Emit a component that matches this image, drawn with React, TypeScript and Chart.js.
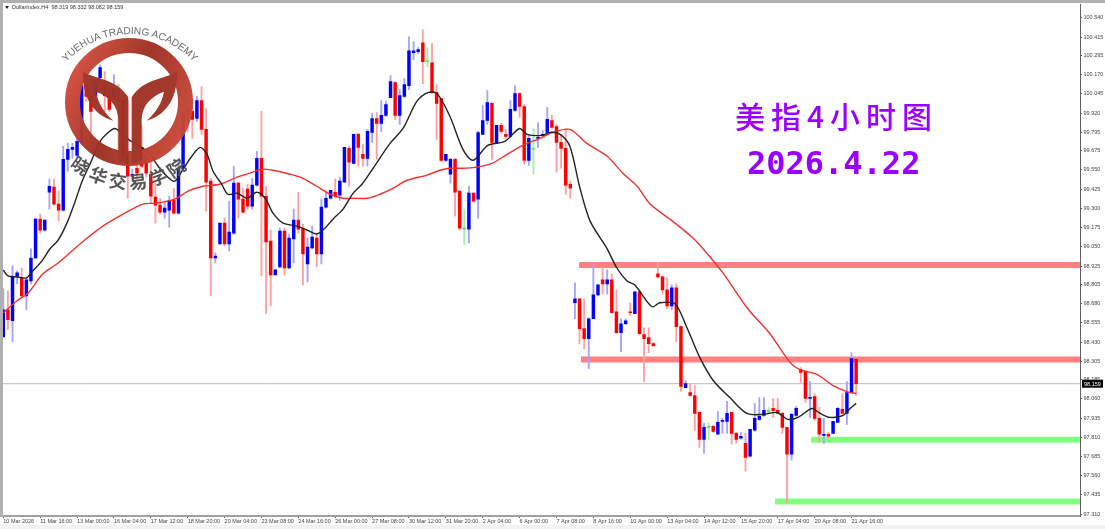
import React, { useEffect, useRef } from "react";
import { Chart, registerables } from "chart.js";

Chart.register(...registerables);

const opens = [
  98.465,98.640,98.569,98.854,98.848,98.731,98.828,98.977,99.230,99.159,
  99.405,99.438,99.328,99.289,99.619,99.684,99.645,99.730,100.099,100.028,
  100.034,100.151,100.099,100.041,100.008,100.073,100.002,99.652,99.509,99.561,
  99.697,99.639,99.522,99.373,99.321,99.276,99.289,99.353,99.269,99.561,
  99.944,99.931,99.885,100.002,99.814,99.477,98.977,99.068,99.204,99.068,
  99.139,99.464,99.360,99.425,99.315,99.451,99.626,99.379,99.088,98.867,
  98.919,99.152,98.912,99.101,99.224,99.165,98.938,99.042,99.107,99.003,
  99.308,99.366,99.405,99.386,99.470,99.691,99.593,99.782,99.652,99.626,
  99.794,99.885,99.853,99.905,100.021,100.119,99.905,100.028,100.099,100.313,
  100.320,100.378,100.255,100.248,100.054,100.015,99.613,99.522,99.619,99.412,
  99.165,99.165,99.399,99.360,99.782,99.872,99.983,99.723,99.840,99.782,
  99.769,99.937,100.047,99.963,99.613,99.684,99.756,99.775,99.794,99.872,
  99.833,99.730,99.691,99.457,98.686,98.712,98.517,98.452,98.582,98.737,
  98.835,98.809,98.835,98.627,98.491,98.549,98.627,98.614,98.757,98.478,
  98.459,98.420,98.874,98.854,98.770,98.666,98.783,98.530,98.134,98.102,
  98.082,97.972,97.797,97.875,97.881,97.830,97.914,97.914,97.972,97.836,
  97.804,97.771,97.687,97.856,97.927,97.953,97.985,97.998,97.985,97.966,
  97.875,97.700,97.953,98.251,98.238,98.063,98.076,97.933,97.823,97.830,
  97.836,97.907,97.992,97.966,98.102,98.319,
];
const highs = [
  98.776,98.763,98.926,98.893,98.912,98.848,99.036,99.237,99.263,99.224,
  99.490,99.490,99.412,99.704,99.723,99.723,99.782,100.125,100.125,100.041,
  100.125,100.235,100.190,100.093,100.171,100.106,100.028,99.996,99.555,99.606,
  99.833,99.671,99.606,99.464,99.366,99.347,99.379,99.431,99.606,99.931,
  99.976,100.015,100.028,100.093,99.950,99.496,99.010,99.204,99.237,99.347,
  99.574,99.470,99.431,99.457,99.496,99.671,99.931,99.444,99.159,98.900,
  99.172,99.172,99.133,99.295,99.405,99.198,99.107,99.185,99.139,99.360,
  99.412,99.418,99.490,99.503,99.697,99.704,99.782,99.788,99.717,99.814,
  99.918,99.924,100.002,99.996,100.164,100.125,100.073,100.145,100.417,100.385,
  100.346,100.462,100.346,100.372,100.106,100.015,99.652,99.626,99.626,99.412,
  99.295,99.444,99.399,99.801,99.970,100.067,99.989,99.840,99.853,99.814,
  100.002,100.099,100.054,99.976,99.782,99.820,99.859,99.807,99.957,99.905,
  99.846,99.782,99.820,99.477,98.815,98.712,98.712,98.588,98.938,98.802,
  98.919,98.900,98.874,98.770,98.582,98.582,98.686,98.757,98.770,98.523,
  98.523,98.426,98.951,98.861,98.848,98.802,98.809,98.536,98.180,98.160,
  98.147,97.972,97.901,97.901,97.888,97.979,97.933,98.044,97.972,97.843,
  97.843,97.836,97.862,98.031,98.069,98.069,98.005,98.063,98.063,97.972,
  97.875,97.966,98.011,98.264,98.245,98.173,98.095,98.005,97.933,97.843,
  97.914,98.005,98.095,98.173,98.361,98.332,
];
const lows = [
  98.459,98.510,98.433,98.809,98.724,98.640,98.809,98.971,99.139,99.152,
  99.295,99.321,99.217,99.282,99.542,99.626,99.626,99.717,99.996,99.691,
  99.983,100.106,99.931,99.931,99.996,99.691,99.606,99.366,99.477,99.490,
  99.561,99.503,99.334,99.204,99.263,99.237,99.178,99.263,99.263,99.542,
  99.801,99.756,99.866,99.782,99.282,98.731,98.945,99.068,99.055,99.023,
  99.133,99.237,99.269,99.295,99.295,99.444,98.861,98.614,98.666,98.867,
  98.912,98.867,98.906,98.945,99.139,98.802,98.822,99.036,98.919,98.938,
  99.302,99.360,99.366,99.353,99.470,99.444,99.593,99.574,99.574,99.574,
  99.730,99.619,99.801,99.898,100.021,99.879,99.846,100.021,100.073,100.268,
  100.307,100.112,100.223,100.047,99.749,99.606,99.606,99.464,99.250,99.159,
  99.062,99.075,99.340,99.237,99.782,99.846,99.619,99.723,99.788,99.749,
  99.762,99.931,99.892,99.587,99.580,99.522,99.697,99.769,99.788,99.820,
  99.535,99.561,99.392,99.366,98.582,98.420,98.387,98.257,98.582,98.731,
  98.744,98.744,98.621,98.485,98.368,98.543,98.601,98.614,98.478,98.173,
  98.361,98.400,98.848,98.744,98.647,98.640,98.433,98.108,98.134,98.076,
  97.856,97.745,97.706,97.797,97.842,97.830,97.836,97.836,97.765,97.771,
  97.797,97.590,97.680,97.849,97.920,97.946,97.966,97.940,97.966,97.836,
  97.382,97.661,97.946,98.167,98.037,97.940,97.920,97.778,97.771,97.804,
  97.836,97.907,97.966,97.894,98.095,98.082,
];
const closes = [
  98.640,98.575,98.854,98.880,98.731,98.835,98.977,99.230,99.159,99.224,
  99.444,99.328,99.289,99.619,99.684,99.697,99.736,100.099,100.028,99.931,
  100.125,100.216,100.034,99.944,100.080,100.002,99.652,99.509,99.522,99.529,
  99.574,99.529,99.379,99.321,99.276,99.302,99.353,99.269,99.561,99.924,
  99.879,99.879,100.002,99.814,99.470,98.977,98.990,99.204,99.068,99.146,
  99.464,99.360,99.276,99.315,99.451,99.626,99.379,99.081,98.867,98.900,
  99.152,98.912,99.107,99.224,99.165,99.003,99.049,99.114,99.003,99.308,
  99.366,99.418,99.379,99.477,99.697,99.600,99.782,99.697,99.626,99.801,
  99.885,99.853,99.905,99.976,100.125,99.905,100.034,100.106,100.326,100.326,
  100.333,100.255,100.261,100.054,99.983,99.613,99.652,99.619,99.405,99.172,
  99.172,99.399,99.347,99.794,99.872,99.989,99.730,99.840,99.801,99.769,
  99.944,100.047,99.963,99.613,99.756,99.691,99.762,99.782,99.879,99.827,
  99.730,99.691,99.451,99.431,98.712,98.517,98.452,98.582,98.737,98.802,
  98.809,98.835,98.621,98.491,98.549,98.569,98.621,98.757,98.485,98.452,
  98.420,98.407,98.854,98.770,98.666,98.783,98.530,98.141,98.160,98.082,
  97.966,97.797,97.875,97.881,97.849,97.907,97.920,97.966,97.836,97.797,
  97.817,97.680,97.862,97.933,97.946,97.985,97.979,97.985,97.966,97.875,
  97.700,97.959,97.998,98.232,98.063,98.070,97.933,97.830,97.830,97.817,
  97.914,97.998,97.966,98.102,98.322,98.159,
];
const dojiIndexes = [92, 100, 115, 153, 166];

const blackMaIndex = [
  0,1,3,5,6.4,8.4,10.1,11.9,13.8,15.6,17.1,18.8,21,22.5,24.2,25.7,27.1,29.7,31.8,33.6,35.5,37.2,39,40.9,42.7,
  44.2,45.5,47.4,48.7,50.7,52.9,55,56.8,58.5,60.7,63.7,65.9,68,69.8,71.5,73.7,75.9,77.8,80.2,83.9,86.7,89.7,
  92.1,94.1,96.9,99.7,101.9,105.1,108.8,112,113.6,116.9,118.6,120.8,122.9,125.1,127.3,130.9,133.1,135.3,137,
  140.7,142.4,145.7,148.3,151.1,154,157.6,161.3,164.8,167.8,170.2,172.4,175.4,177.2,179.3,182.2,183.7,185,
];
const blackMaValues = [
  98.899,98.861,98.854,98.848,98.893,98.958,99.036,99.094,99.204,99.347,99.477,99.587,99.736,99.788,99.820,99.788,99.749,99.704,99.652,99.574,99.509,99.477,99.555,99.639,99.697,
  99.652,99.542,99.457,99.392,99.399,99.366,99.405,99.366,99.269,99.204,99.185,99.159,99.133,99.172,99.230,99.295,99.399,99.457,99.561,99.723,99.820,99.996,
  100.054,100.047,99.898,99.684,99.613,99.710,99.736,99.820,99.782,99.775,99.795,99.782,99.704,99.431,99.217,99.042,98.912,98.828,98.802,
  98.660,98.686,98.679,98.523,98.329,98.180,98.069,97.966,97.959,97.972,97.927,97.940,97.998,97.966,97.940,97.953,97.998,98.031,
];
const redMaIndex = [
  0,3,5.4,8.6,11.6,14.9,18.2,21.6,26,30.3,33.3,37.2,40.1,43.3,47,50.7,53.5,56.1,58.5,62.2,65,68,70.9,73.7,75.9,79,81.7,84.5,87.6,91.9,94.7,96.9,99.7,102.3,
  106,109.3,112.7,116.4,119.2,122.9,126.6,131,134.4,137.5,140.3,144.6,149.6,152.2,156.1,161.5,166.3,170.7,172.8,176.5,180,183,185,
];
const redMaValues = [
  98.621,98.699,98.750,98.874,98.938,99.023,99.107,99.185,99.263,99.328,99.334,99.360,99.412,99.444,99.457,99.503,99.529,99.555,99.548,99.522,99.496,99.444,99.392,99.366,99.366,99.366,99.392,99.431,99.483,99.516,99.548,99.561,99.561,99.567,
  99.593,99.652,99.710,99.756,99.795,99.814,99.723,99.639,99.529,99.444,99.328,99.230,99.107,99.023,98.880,98.647,98.484,98.296,98.251,98.219,98.147,98.108,98.095,
];

const bandPrices = [98.931, 98.316, 97.794, 97.392];
const bandStarts = [124.9, 125.3, 175.2, 167.4];
const bandColors = ["#ff8080", "#ff8080", "#80ff80", "#80ff80"];
const lastPrice = 98.159;

const priceTicks = [
  100.54,100.415,100.295,100.17,100.045,99.92,99.795,99.675,99.55,99.425,99.3,99.175,99.05,98.925,
  98.805,98.68,98.555,98.43,98.305,98.185,98.06,97.935,97.81,97.685,97.56,97.435,97.31,
];
const timeLabels = [
  "10 Mar 2026","11 Mar 16:00","13 Mar 00:00","16 Mar 04:00","17 Mar 12:00","18 Mar 20:00","20 Mar 04:00","23 Mar 08:00",
  "24 Mar 16:00","26 Mar 00:00","27 Mar 08:00","30 Mar 12:00","31 Mar 20:00","2 Apr 04:00","6 Apr 00:00","7 Apr 08:00",
  "8 Apr 16:00","10 Apr 00:00","13 Apr 04:00","14 Apr 12:00","15 Apr 20:00","17 Apr 04:00","20 Apr 08:00","21 Apr 16:00",
];
const timeLabelStep = 8;

const X_MIN = -0.28;
const X_MAX = 233.56;

const tagPlugin = {
  id: "lastPriceTag",
  afterDraw(chart: any) {
    const { ctx, scales } = chart;
    const y = scales.y.getPixelForValue(lastPrice);
    ctx.save();
    ctx.fillStyle = "#000";
    ctx.fillRect(1082, y - 4, 21, 8);
    ctx.fillStyle = "#fff";
    ctx.font = "5.5px 'Liberation Sans'";
    ctx.textBaseline = "middle";
    ctx.fillText(lastPrice.toFixed(3), 1084, y + 0.5);
    ctx.restore();
  },
};

const candleColor = (i: number, blue: string, red: string, green: string) =>
  dojiIndexes.includes(i) ? green : closes[i] >= opens[i] ? blue : red;

export default function App() {
  const ref = useRef<HTMLCanvasElement | null>(null);
  useEffect(() => {
    const idx = opens.map((_, i) => i);
    const datasets: any[] = [
      ...bandPrices.map((p, k) => ({
        type: "line",
        data: [{ x: bandStarts[k], y: p }, { x: X_MAX, y: p }],
        borderColor: bandColors[k],
        borderWidth: 6,
        pointRadius: 0,
        order: 6,
      })),
      {
        type: "line",
        data: [{ x: X_MIN, y: lastPrice }, { x: X_MAX, y: lastPrice }],
        borderColor: "#b4bace",
        borderWidth: 1,
        pointRadius: 0,
        order: 5,
      },
      {
        type: "bar",
        data: idx.map((i) => ({ x: i, y: [lows[i], highs[i]] })),
        backgroundColor: idx.map((i) => candleColor(i, "#a4a4ff", "#ffa0a0", "#a4f0a4")),
        barThickness: 1.2,
        grouped: false,
        borderWidth: 0,
        order: 4,
      },
      {
        type: "bar",
        data: idx.map((i) => ({ x: i, y: [opens[i], closes[i]] })),
        backgroundColor: idx.map((i) => candleColor(i, "#0000ff", "#ff0000", "#60e060")),
        barThickness: 2.8,
        grouped: false,
        borderWidth: 0,
        minBarLength: 1,
        order: 3,
      },
      {
        type: "line",
        data: redMaIndex.map((x, k) => ({ x, y: redMaValues[k] })),
        borderColor: "#f23030",
        borderWidth: 1.4,
        pointRadius: 0,
        tension: 0.3,
        order: 2,
      },
      {
        type: "line",
        data: blackMaIndex.map((x, k) => ({ x, y: blackMaValues[k] })),
        borderColor: "#222",
        borderWidth: 1.4,
        pointRadius: 0,
        tension: 0.3,
        order: 1,
      },
    ];
    const chart = new Chart(ref.current as HTMLCanvasElement, {
      type: "bar",
      data: { datasets },
      plugins: [tagPlugin],
      options: {
        responsive: false,
        animation: false,
        events: [],
        layout: { padding: { left: 2, top: 3, right: 0, bottom: 0 } },
        plugins: { legend: { display: false }, tooltip: { enabled: false } },
        scales: {
          x: {
            type: "linear",
            offset: false,
            min: X_MIN,
            max: X_MAX,
            afterBuildTicks: (s: any) => {
              s.ticks = timeLabels.map((_, k) => ({ value: k * timeLabelStep }));
            },
            afterFit: (s: any) => {
              s.height = 13;
            },
            border: { color: "#a0a0a0", width: 2 },
            grid: { offset: false, drawOnChartArea: false, tickLength: 2, tickColor: "#555" },
            ticks: {
              autoSkip: false,
              maxRotation: 0,
              minRotation: 0,
              align: "start",
              padding: 0,
              color: "#444",
              font: { family: "'Liberation Sans'", size: 5.5 },
              callback: (_v: any, i: number) => timeLabels[i],
            },
          },
          y: {
            position: "right",
            min: 97.298,
            max: 100.625,
            beginAtZero: false,
            afterBuildTicks: (s: any) => {
              s.ticks = priceTicks.map((value) => ({ value }));
            },
            afterFit: (s: any) => {
              s.width = 25;
            },
            border: { color: "#606060", width: 1 },
            grid: { drawOnChartArea: false, tickLength: 2, tickColor: "#555" },
            ticks: {
              autoSkip: false,
              padding: 1.5,
              color: "#444",
              font: { family: "'Liberation Sans'", size: 5.5 },
              callback: (v: any) => Number(v).toFixed(3),
            },
          },
        },
      } as any,
    });
    return () => chart.destroy();
  }, []);

  return (
    <div style={{ position: "fixed", left: 0, top: 0, width: 1105, height: 529, background: "#fff", overflow: "hidden" }}>
      <canvas ref={ref} width={1105} height={529} style={{ position: "absolute", left: 0, top: 0, display: "block" }} />
      <div style={{ position: "absolute", left: 0, top: 0, width: 1105, height: 2.5, background: "#b0b0b0" }} />
      <div style={{ position: "absolute", left: 0, top: 0, width: 2.5, height: 517, background: "#b0b0b0" }} />
      <div style={{ position: "absolute", left: 0, top: 525, width: 1105, height: 4, background: "#f2f2f2" }} />
      <div style={{ position: "absolute", left: 12, top: 4, font: "5.5px 'Liberation Sans'", lineHeight: "7px", color: "#333", whiteSpace: "pre" }}>
        {"DollarIndex,H4  98.319 98.332 98.082 98.159"}
      </div>
      <div style={{ position: "absolute", left: 5, top: 6, width: 0, height: 0, borderLeft: "2.5px solid transparent", borderRight: "2.5px solid transparent", borderTop: "3px solid #222" }} />
      <svg width={1105} height={529} style={{ position: "absolute", left: 0, top: 0 }}>
        <defs>
          <linearGradient id="ringGrad" x1="0" y1="0.3" x2="1" y2="0.8">
            <stop offset="0" stopColor="#cf4b3b" />
            <stop offset="0.45" stopColor="#9e3024" />
            <stop offset="1" stopColor="#cc4a39" />
          </linearGradient>
          <path id="topArc" d="M 48 92 A 87 87 0 0 1 212 92" />
          <path id="bottomArc" d="M 50 140 A 90 90 0 0 0 210 140" />
        </defs>
        <g opacity={0.97}>
          <circle cx={129} cy={102} r={56.5} fill="none" stroke="url(#ringGrad)" strokeWidth={15} />
          <g transform="scale(0.3333)" fill="#a03326">
            <path d="M250 215 C245 290 280 345 340 362 C310 335 295 310 288 275 C330 290 355 320 355 360 L355 480 L385 495 L385 292 C350 235 290 240 250 215 Z" />
            <path d="M530 215 C535 290 500 345 440 362 C470 335 485 310 492 275 C450 290 425 320 425 360 L425 480 L395 495 L395 292 C430 235 490 240 530 215 Z" />
          </g>
        </g>
        <text fill="#6a6a6a" style={{ font: "10.2px 'Liberation Sans'" }} textAnchor="middle">
          <textPath href="#topArc" startOffset="50%">YUEHUA TRADING ACADEMY</textPath>
        </text>
        <text fill="#555" style={{ font: "bold 18px 'Noto Sans CJK SC'" }} textAnchor="middle" letterSpacing={4}>
          <textPath href="#bottomArc" startOffset="50%">晓华交易学院</textPath>
        </text>
      </svg>
      <div style={{ position: "absolute", left: 735, top: 94, font: "500 30px 'Noto Sans CJK SC'", lineHeight: "42px", color: "#9900ff", letterSpacing: 6, whiteSpace: "pre" }}>
        美指4小时图
      </div>
      <div style={{ position: "absolute", left: 747, top: 142, font: "bold 32px 'DejaVu Sans Mono'", lineHeight: "42px", color: "#9900ff", whiteSpace: "pre" }}>
        2026.4.22
      </div>
    </div>
  );
}
